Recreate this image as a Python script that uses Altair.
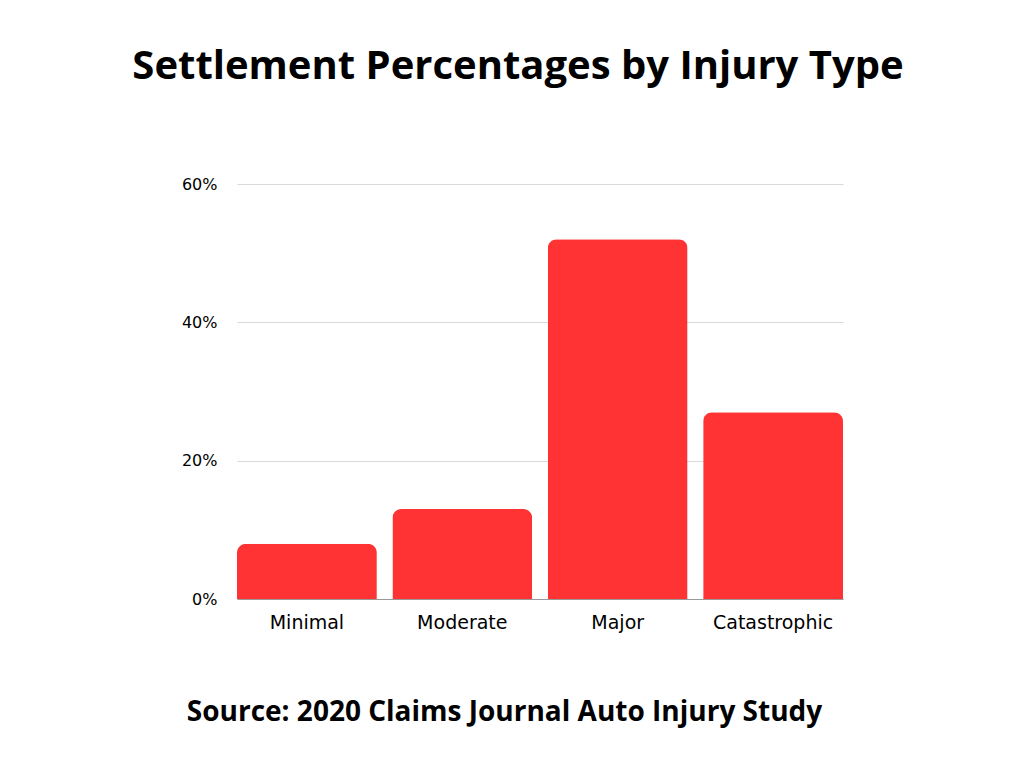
import altair as alt
import pandas as pd

categories = ["Minimal", "Moderate", "Major", "Catastrophic"]
values = [8, 13, 52, 27]

df = pd.DataFrame({"type": categories, "pct": [v / 100 for v in values]})

chart = alt.Chart(df).mark_bar(
    color="#FF3333", cornerRadiusTopLeft=9, cornerRadiusTopRight=9
).encode(
    x=alt.X("type:N", sort=categories,
            scale=alt.Scale(paddingInner=0.1, paddingOuter=0),
            axis=alt.Axis(title="Source: 2020 Claims Journal Auto Injury Study",
                          titleFontSize=28, titleFont="Open Sans", titleFontWeight="bold",
                          titleColor="#000000", titlePadding=66, titleX=267,
                          labelAngle=0, labelFontSize=19, labelFont="DejaVu Sans",
                          labelColor="#000000", labelPadding=14, grid=False,
                          ticks=False, domainColor="#999999", domainWidth=1)),
    y=alt.Y("pct:Q", scale=alt.Scale(domain=[0, 0.6]),
            axis=alt.Axis(title=None, values=[0, 0.2, 0.4, 0.6], format=".0%",
                          labelFontSize=16, labelFont="DejaVu Sans", labelColor="#000000",
                          labelPadding=20, ticks=False, domain=False,
                          gridColor="#d9d9d9", gridWidth=1)),
).properties(
    width=606, height=415,
    background="white",
    title=alt.TitleParams("Settlement Percentages by Injury Type", fontSize=40,
                          font="Open Sans", fontWeight="bold", color="#000000",
                          anchor="middle", dx=-22, offset=89),
    autosize=alt.AutoSizeParams(type="none"),
    padding={"left": 229, "top": 176, "right": 173, "bottom": 150},
).configure_view(strokeWidth=0)

chart.save("out.html", embed_options={"renderer": "svg", "actions": False})
